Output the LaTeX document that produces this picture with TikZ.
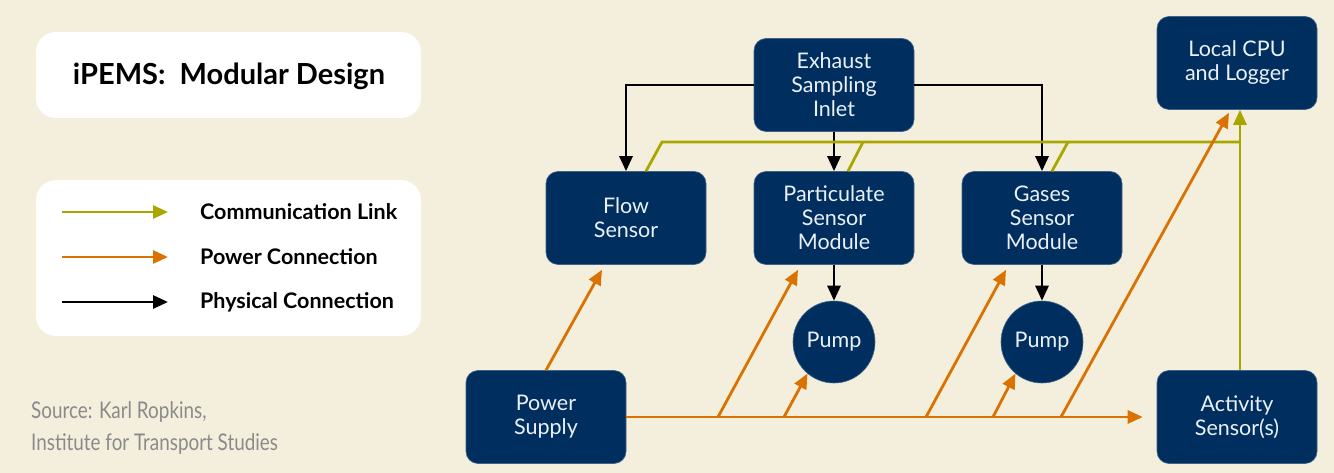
\documentclass[tikz,border=0pt]{standalone}
\usepackage{fontspec}
\setmainfont{Lato}
\newfontfamily\condfont[FakeStretch=0.82]{Lato}
\usetikzlibrary{arrows.meta,calc}
\definecolor{bg}{RGB}{244,239,221}
\definecolor{navy}{RGB}{0,47,95}
\definecolor{olive}{RGB}{170,166,0}
\definecolor{orng}{RGB}{217,114,0}
\definecolor{srcgray}{RGB}{138,138,138}
\definecolor{nodetext}{RGB}{234,240,246}
\begin{document}
\begin{tikzpicture}[x=1pt,y=-1pt,
  box/.style={rectangle,rounded corners=12pt,fill=navy,draw=navy!75!white,line width=0.6pt,
    minimum width=160pt,minimum height=93pt,align=center,text=nodetext,inner sep=0pt,
    font=\fontsize{21.5}{24}\selectfont},
  pumpnode/.style={circle,fill=navy,draw=navy!75!white,line width=0.6pt,minimum size=82pt,
    inner sep=0pt,text=nodetext,font=\fontsize{21.5}{24}\selectfont},
  tip/.style={-{Triangle[length=15pt,width=13pt]}},
  phys/.style={draw=black,line width=2.8pt,tip},
  comm/.style={draw=olive,line width=2.8pt},
  pow/.style={draw=orng,line width=2.8pt},
  legtext/.style={anchor=west,font=\bfseries\fontsize{21.5}{24}\selectfont,inner sep=0pt},
  srctext/.style={anchor=base west,inner sep=0pt,text=srcgray,font=\condfont\fontsize{23}{26}\selectfont}
]
\fill[bg] (0,0) rectangle (1334,473);
\useasboundingbox (0,0) rectangle (1334,473);

% title and legend panels
\fill[white,rounded corners=20pt] (36,32) rectangle (421,118);
\node[font=\bfseries\fontsize{29}{34}\selectfont,inner sep=0pt] (title) at (229,76) {iPEMS:\ \ Modular Design};
\fill[white,rounded corners=20pt] (36,180) rectangle (421,336);
\coordinate (l1s) at (62,212); \coordinate (l1e) at (168,212);
\coordinate (l2s) at (62,257); \coordinate (l2e) at (168,257);
\coordinate (l3s) at (62,302); \coordinate (l3e) at (168,302);
\draw[comm,tip] (l1s) -- (l1e);
\draw[pow,tip] (l2s) -- (l2e);
\draw[phys] (l3s) -- (l3e);
\node[legtext] (lt1) at (200,212) {Communication Link};
\node[legtext] (lt2) at (200,257) {Power Connection};
\node[legtext] (lt3) at (200,302) {Physical Connection};

% source
\node[srctext] (src1) at (31,418) {Source: Karl Ropkins,};
\node[srctext] (src2) at (31,450) {Institute for Transport Studies};

% nodes
\node[box] (exh) at (834,85) {Exhaust\\Sampling\\Inlet};
\node[box] (flow) at (626,218) {Flow\\Sensor};
\node[box] (part) at (834,218) {Particulate\\Sensor\\Module};
\node[box] (gas) at (1042,218) {Gases\\Sensor\\Module};
\node[box] (cpu) at (1237,63) {Local CPU\\and Logger};
\node[box] (pwr) at (546,417) {Power\\Supply};
\node[box] (act) at (1237,417) {Activity\\Sensor(s)};
\node[pumpnode] (pump1) at (834,342) {Pump};
\node[pumpnode] (pump2) at (1042,342) {Pump};

% physical connections
\draw[phys] (exh.west) -| (flow.north);
\draw[phys] (exh.south) -- (part.north);
\draw[phys] (exh.east) -| (gas.north);
\draw[phys] (part.south) -- (pump1.north);
\draw[phys] (gas.south) -- (pump2.north);

% communication links
\coordinate (c1) at (662,142);
\coordinate (c2) at (863,142);
\coordinate (c3) at (1068,142);
\coordinate (c4) at (1240,142);
\draw[comm] ([xshift=20pt]flow.north) -- (c1) -- (c4);
\draw[comm] ([xshift=14pt]part.north) -- (c2);
\draw[comm] ([xshift=10pt]gas.north) -- (c3);
\draw[comm,tip] ([xshift=3pt]act.north) -- ([xshift=3pt]cpu.south);

% power connections
\coordinate (p1) at (718,417);
\coordinate (p2) at (784,417);
\coordinate (p3) at (926,417);
\coordinate (p4) at (993,417);
\coordinate (p5) at (1061,417);
\draw[pow,tip] (pwr.east) -- ([xshift=-14pt]act.west);
\draw[pow,tip] (pwr.north) -- ([xshift=-24pt,yshift=-5pt]flow.south);
\draw[pow,tip] (p1) -- ([xshift=-36pt,yshift=-5pt]part.south);
\draw[pow,tip] (p2) -- (pump1.230);
\draw[pow,tip] (p3) -- ([xshift=-36pt,yshift=-5pt]gas.south);
\draw[pow,tip] (p4) -- (pump2.230);
\draw[pow,tip] (p5) -- ([xshift=-8pt,yshift=-3pt]cpu.south);
\end{tikzpicture}
\end{document}
